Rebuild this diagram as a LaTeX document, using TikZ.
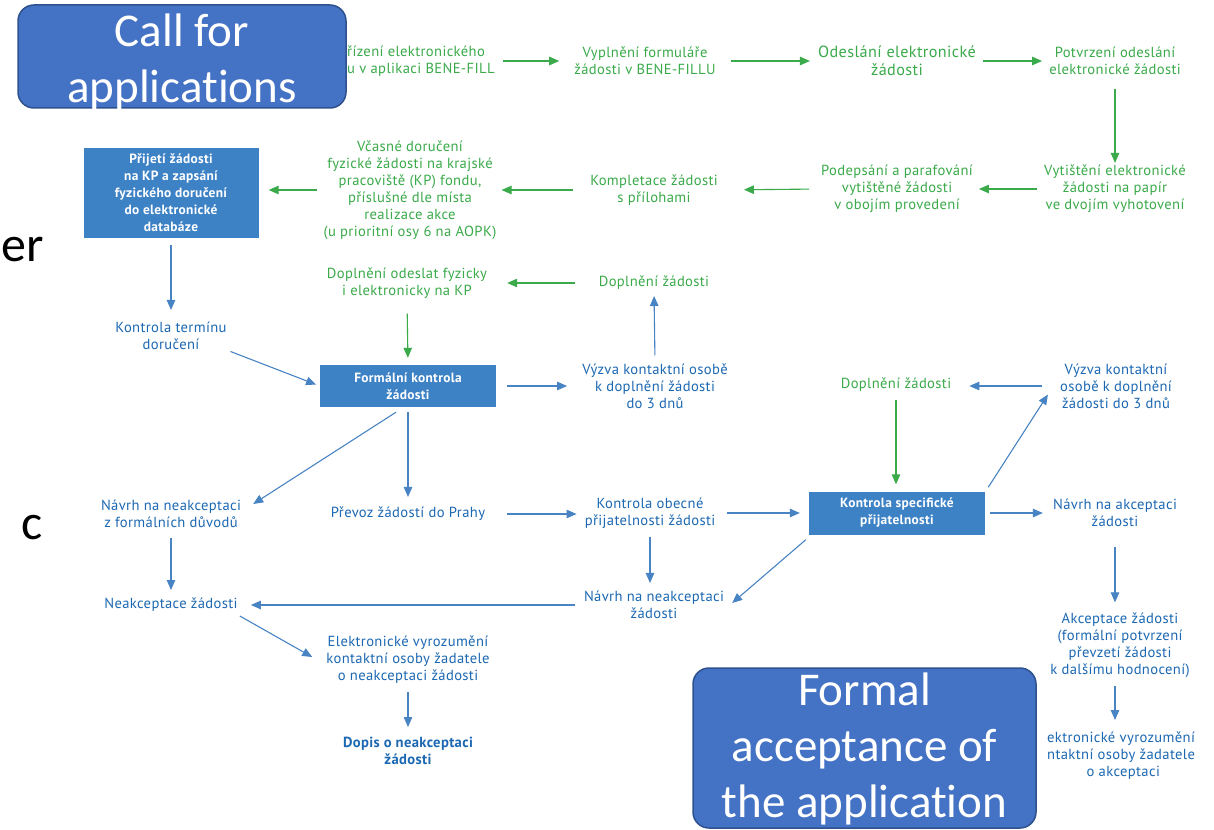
\documentclass[tikz,border=0pt]{standalone}
\usepackage{fontspec}
\setmainfont{PT Sans}[LetterSpace=2.5]
\newfontfamily\calibri{Carlito}[Ligatures=NoCommon]
\usetikzlibrary{arrows.meta}
\definecolor{gr}{RGB}{58,170,74}
\definecolor{bl}{RGB}{28,104,178}
\definecolor{boxc}{RGB}{62,130,198}
\definecolor{arb}{RGB}{72,132,196}
\definecolor{ovf}{RGB}{68,114,196}
\definecolor{ovd}{RGB}{47,82,143}
\begin{document}
\begin{tikzpicture}[x=1pt,y=-1pt,
  gt/.style={text=gr, font=\fontsize{14.6}{17}\selectfont, align=center, inner sep=0pt},
  bt/.style={text=bl, font=\fontsize{14.6}{17}\selectfont, align=center, inner sep=0pt},
  bbox/.style={fill=boxc, text=white, font=\bfseries\fontsize{13.4}{17}\selectfont, align=center, inner sep=0pt},
  ga/.style={draw=gr, line width=1.1pt, -{Triangle[length=10pt,width=8.5pt]}},
  ba/.style={draw=arb, line width=1.1pt, -{Triangle[length=10pt,width=8.5pt]}},
  ovbox/.style={fill=ovf, draw=ovd, line width=1.5pt, rounded corners=16pt, inner sep=0pt},
  ovtext/.style={text=white, font=\calibri\fontsize{47}{56}\selectfont, align=center, inner sep=0pt},
  slidetext/.style={text=black, font=\calibri\fontsize{50}{56}\selectfont, inner sep=0pt}
]
\useasboundingbox (0,0) rectangle (1214,829);
\fill[white] (0,0) rectangle (1214,829);

% slide text fragments at left edge
\node[slidetext, anchor=base east] (sl1) at (44,261) {er};
\node[slidetext, anchor=base east] (sl2) at (43,539) {c};

% green row 1
\node[gt, anchor=west, align=left] (T1) at (347,61) {řízení elektronického\\u v aplikaci BENE-FILL};
\node[gt] (T2) at (645,61) {Vyplnění formuláře\\žádosti v BENE-FILLU};
\node[gt, font=\fontsize{16.2}{18}\selectfont] (T3) at (897,61) {Odeslání elektronické\\žádosti};
\node[gt] (T4) at (1115,61) {Potvrzení odeslání\\elektronické žádosti};

% green row 2
\node[gt] (T5) at (1115,189) {Vytištění elektronické\\žádosti na papír\\ve dvojím vyhotovení};
\node[gt] (T6) at (897,189) {Podepsání a parafování\\vytištěné žádosti\\v obojím provedení};
\node[gt] (T7) at (654,190) {Kompletace žádosti\\s přílohami};
\node[gt] (T8) at (410,190) {Včasné doručení\\fyzické žádosti na krajské\\pracoviště (KP) fondu,\\příslušné dle místa\\realizace akce\\(u prioritní osy 6 na AOPK)};
\node[bbox, minimum width=175pt, minimum height=90pt] (B1) at (171,193) {Přijetí žádosti\\na KP a zapsání\\fyzického doručení\\do elektronické\\databáze};

% middle
\node[bt] (T9) at (171,336) {Kontrola termínu\\doručení};
\node[gt] (T10) at (407,283) {Doplnění odeslat fyzicky\\i elektronicky na KP};
\node[gt] (T11) at (654,283) {Doplnění žádosti};
\node[bbox, minimum width=176pt, minimum height=42pt] (B2) at (408,386) {Formální kontrola\\žádosti};
\node[bt] (T12) at (655,386) {Výzva kontaktní osobě\\k doplnění žádosti\\do 3 dnů};
\node[gt] (T24) at (896,385) {Doplnění žádosti};
\node[bt] (T23) at (1116,386) {Výzva kontaktní\\osobě k doplnění\\žádosti do 3 dnů};

% lower
\node[bt] (T14) at (171,514) {Návrh na neakceptaci\\z formálních důvodů};
\node[bt] (T13) at (408,514) {Převoz žádostí do Prahy};
\node[bt] (T18) at (650,513) {Kontrola obecné\\přijatelnosti žádosti};
\node[bbox, minimum width=176pt, minimum height=43pt] (B3) at (897,513) {Kontrola specifické\\přijatelnosti};
\node[bt] (T20) at (1115,513) {Návrh na akceptaci\\žádosti};
\node[bt] (T15) at (171,605) {Neakceptace žádosti};
\node[bt] (T19) at (654,605) {Návrh na neakceptaci\\žádosti};
\node[bt] (T16) at (408,660) {Elektronické vyrozumění\\kontaktní osoby žadatele\\o neakceptaci žádosti};
\node[bt, font=\bfseries\fontsize{14.6}{17}\selectfont] (T17) at (408,751) {Dopis o neakceptaci\\žádosti};
\node[bt] (T21) at (1120,645) {Akceptace žádosti\\(formální potvrzení\\převzetí žádosti\\k dalšímu hodnocení)};
\node[bt, anchor=west, align=left] (T22) at (1047,756) {ektronické vyrozumění\\ntaktní osoby žadatele\\\hspace*{2.7em}o akceptaci};

% green arrows
\draw[ga, shorten <=8pt, shorten >=15pt] (T1.east) -- (T2.west);
\draw[ga, shorten <=15pt, shorten >=8pt] (T2.east) -- (T3.west);
\draw[ga, shorten <=7pt, shorten >=7pt] (T3.east) -- (T4.west);
\draw[ga, shorten <=14pt, shorten >=2pt] (T4.south) -- (T5.north);
\draw[ga, shorten <=7pt, shorten >=6pt] (T5.west) -- (T6.east);
\draw[ga, shorten <=12pt, shorten >=26pt] (T6.west) -- (T7.east);
\draw[ga, shorten <=17pt, shorten >=5pt] (T7.west) -- (T8.east);
\draw[ga, shorten <=6pt, shorten >=10pt] (T8.west) -- (T8.west -| B1.east);
\draw[ga, shorten <=24pt, shorten >=20pt] (T11.west) -- (T10.east);
\draw[ga, shorten <=15pt, shorten >=7pt] (T10.south) -- (B2.north);
\draw[ga, shorten <=8pt, shorten >=7pt] (T24.south) -- (T24.south |- B3.north);

% blue arrows
\draw[ba, shorten <=7pt, shorten >=12pt] (B1.south) -- (T9.north);
\draw[ba, shorten <=4pt, shorten >=4pt] (T9.south east) -- (B2.west);
\draw[ba, shorten <=11pt, shorten >=15pt] (B2.east) -- (B2.east -| T12.west);
\draw[ba, shorten <=8pt, shorten >=6pt] (T12.north) -- (T11.south);
\draw[ba, shorten <=5pt, shorten >=10pt] (B2.south) -- (T13.north);
\draw[ba] ([xshift=-12pt,yshift=-5pt]B2.south) -- ([xshift=12pt,yshift=10pt]T14.east);
\draw[ba, shorten <=10pt, shorten >=8pt] (T14.south) -- (T15.north);
\draw[ba] ([xshift=2pt,yshift=-4pt]T15.south east) -- ([xshift=-14pt,yshift=3pt]T16.west);
\draw[ba, shorten <=8pt, shorten >=10pt] (T16.south) -- (T17.north);
\draw[ba, shorten <=22pt, shorten >=8pt] (T13.east) -- (T13.east -| T18.west);
\draw[ba, shorten <=8pt, shorten >=8pt] (T18.south) -- (T18.south |- T19.north);
\draw[ba, shorten <=9pt, shorten >=13pt] (T19.west) -- (T19.west -| T15.east);
\draw[ba, shorten <=12pt, shorten >=9pt] (T18.east) -- (T18.east -| B3.west);
\draw[ba] ([xshift=-3pt,yshift=-5pt]B3.south west) -- ([xshift=8pt,yshift=2pt]T19.east);
\draw[ba, shorten <=5pt, shorten >=10pt] (B3.east) -- (B3.east -| T20.west);
\draw[ba, shorten <=20pt, shorten >=10pt] (T20.south) -- (T20.south |- T21.north);
\draw[ba, shorten <=8pt, shorten >=12pt] (T20.south |- T21.south) -- (T20.south |- T22.north);
\draw[ba] ([xshift=3pt,yshift=4pt]B3.north east) -- ([xshift=-12pt,yshift=14pt]T23.south west);
\draw[ba, shorten <=18pt, shorten >=18pt] (T23.west) -- (T23.west -| T24.east);

% overlay boxes
\node[ovbox, minimum width=328pt, minimum height=103pt] (call) at (182,56.5) {};
\node[ovtext] (calltext) at ([yshift=-5pt]call.center) {Call for\\applications};
\node[ovbox, minimum width=343pt, minimum height=160pt] (formal) at (864.5,748) {};
\node[ovtext] (formaltext) at ([yshift=-1pt]formal.center) {Formal\\acceptance of\\the application};
\end{tikzpicture}
\end{document}
